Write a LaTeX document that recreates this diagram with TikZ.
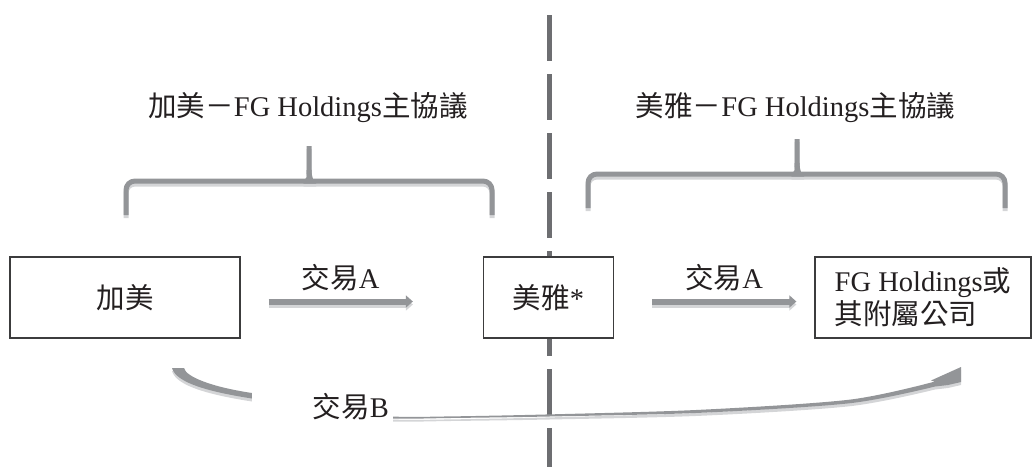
\documentclass[tikz,border=0pt]{standalone}
\usepackage{fontspec}
\setmainfont{Liberation Serif}
\newfontfamily\cjk{Noto Sans CJK TC}
\usetikzlibrary{calc}
\usetikzlibrary{arrows.meta}
\definecolor{braceGray}{HTML}{939598}
\definecolor{braceShadow}{HTML}{D4D5D7}
\definecolor{dashGray}{HTML}{6D6E71}
\definecolor{boxBorder}{HTML}{3C3C3D}
\definecolor{txtBlack}{HTML}{231F20}
\tikzset{box/.style={draw=#1,fill=white,line width=1.3pt,inner sep=0pt},box/.default=boxBorder}
\tikzset{brace/.style={draw=#1,line width=5pt,rounded corners=9pt},brace/.default=braceGray}
\tikzset{flow/.style={draw=#1,line width=6pt,-{Triangle[length=7pt,width=12pt]}},flow/.default=braceGray}
\tikzset{divider/.style={draw=#1,line width=5pt,dash pattern=on 46pt off 13pt},divider/.default=dashGray}

\begin{document}
\begin{tikzpicture}[x=1pt,y=-1pt,font=\fontsize{28.5}{33}\selectfont,text=txtBlack]
	\useasboundingbox (0,0) rectangle (1033,467);

	% The dashed divider
	\draw [divider] (549,15) -- (549,467);

	% The three parties
	\node [box, minimum width=230pt, minimum height=81pt] (jiamei) at (125,297.5) {{\cjk 加美}};
	\node [box, minimum width=130pt, minimum height=81pt] (meiya) at (548.5,297.5) {{\cjk 美雅}*};
	\node [box, minimum width=216pt, minimum height=81pt, align=left]
		(fg) at (923,297.5) {FG Holdings{\cjk 或}\\{\cjk 其附屬公司}};

	% The two agreement labels
	\node (dealleft)  at (308,108)   {{\cjk 加美－}FG Holdings{\cjk 主協議}};
	\node (dealright) at (795.5,108) {{\cjk 美雅－}FG Holdings{\cjk 主協議}};

	% The braces under the labels (shadow first)
	\foreach \c/\s in {braceShadow/3, braceGray/0}
		\foreach \l/\r/\m/\h/\e/\t in {126/492/309/181/215/146, 588/1005/797/174/208/139}
		{
			\draw [brace=\c, yshift=-\s*1pt] (\l,\e) |- (\m-10,\h)
				.. controls (\m-3,\h) and (\m,\h-3) .. (\m,\h-11) -- (\m,\t);
			\draw [brace=\c, yshift=-\s*1pt] (\r,\e) |- (\m+10,\h)
				.. controls (\m+3,\h) and (\m,\h-3) .. (\m,\h-11);
		}

	% Transaction A arrows and their shadows
	\draw [flow=braceShadow, transform canvas={yshift=-3pt}]
		($(jiamei.east)+(28,4)$) -- ($(meiya.west)+(-70,4)$);
	\draw [flow=braceShadow, transform canvas={yshift=-3pt}]
		($(meiya.east)+(38,4)$) -- ($(fg.west)+(-18,4)$);
	\draw [flow] ($(jiamei.east)+(28,4)$) -- ($(meiya.west)+(-70,4)$)
		node [midway, yshift=24pt] (tradeAleft) {{\cjk 交易}A};
	\draw [flow] ($(meiya.east)+(38,4)$) -- ($(fg.west)+(-18,4)$)
		node [midway, yshift=24pt] (tradeAright) {{\cjk 交易}A};

	% Transaction B, a tapering curved arrow (shadow first)
	\foreach \c/\s in {braceShadow/3, braceGray/0}
		\fill [\c, yshift=-\s*1pt]
			(172,368) -- (184,368) .. controls (186,377) and (212,387) .. (252,393)
			-- plot [smooth] coordinates {(252,393) (330,410) (393,416.5) (450,416.4)
				(549,414.4) (700,409.8) (850,399.6) (935,381.5)}
			-- (931,380.5) -- (961,367) -- (961,382) -- (948,385)
			-- plot [smooth] coordinates {(935,386.5) (850,403.2) (700,412.8) (549,416.5)
				(450,418) (393,418.5) (330,414) (252,398.5)}
			.. controls (210,392) and (176,383) .. (172,368) -- cycle;

	% Label of transaction B
	\node [fill=white, text width=133pt, align=right, inner xsep=4pt, inner ysep=0pt,
		minimum height=42pt] (tradeB) at (322.5,407) {{\cjk 交易}B};

\end{tikzpicture}
\end{document}
